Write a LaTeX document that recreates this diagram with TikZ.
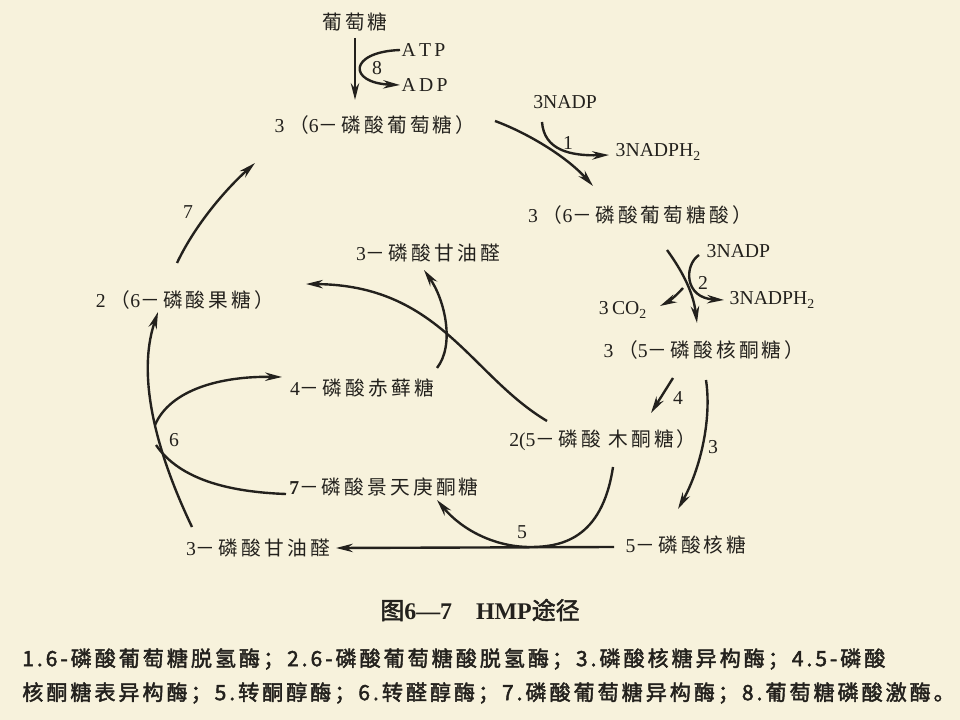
\documentclass[tikz,border=0pt]{standalone}
\usepackage{fontspec}
\setmainfont{Liberation Serif}
\newfontfamily\cjk[LetterSpace=16]{Noto Sans CJK SC}
\newfontfamily\cjknote[AutoFakeBold=2,LetterSpace=14]{Noto Sans CJK SC}
\newfontfamily\cjkcap[AutoFakeBold=2]{Noto Sans CJK SC}
\usetikzlibrary{arrows.meta}
\definecolor{paper}{HTML}{F7F2DC}
\definecolor{ink}{HTML}{23211D}
\newcommand{\zh}[1]{{\cjk #1}}
\tikzset{
  lbl/.style={text=ink,font=\fontsize{14}{16}\selectfont,inner sep=1pt},
  num/.style={text=ink,font=\fontsize{14}{16}\selectfont,inner sep=1pt},
  note/.style={text=ink,font=\fontsize{15}{17}\selectfont\bfseries,inner sep=0pt,anchor=west},
  flow/.style={draw=ink,line width=1.7pt,-{Stealth[length=12pt,width=6pt]}},
  bare/.style={draw=ink,line width=1.7pt},
}
\begin{document}
\begin{tikzpicture}[x=0.025cm,y=-0.025cm]
\useasboundingbox (0,0) rectangle (960,720);
\fill[paper] (0,0) rectangle (960,720);
% compounds
\node[lbl] (glu) at (355,22) {\zh{葡萄糖}};
\node[lbl,anchor=west] (atp) at (400,50) {A\,T\,P};
\node[lbl,anchor=west] (adp) at (400,85) {A\,D\,P};
\node[lbl] (g6p) at (375,125) {3 \zh{（}6\zh{－磷酸葡萄糖）}};
\node[lbl] (nadpa) at (565,102) {3NADP};
\node[lbl,anchor=west] (nadpha) at (614,152) {3NADPH\textsubscript{2}};
\node[lbl] (g6pa) at (640,215) {3 \zh{（}6\zh{－磷酸葡萄糖酸）}};
\node[lbl,anchor=west] (nadpb) at (705,251) {3NADP};
\node[lbl] (co2) at (623,310) {3\,CO\textsubscript{2}};
\node[lbl,anchor=west] (nadphb) at (728,300) {3NADPH\textsubscript{2}};
\node[lbl] (ru5p) at (704,350) {3 \zh{（}5\zh{－磷酸核酮糖）}};
\node[lbl] (xu5p) at (603,440) {2(5\zh{－磷酸 木酮糖）}};
\node[lbl] (r5p) at (686,545) {5\zh{－磷酸核糖}};
\node[lbl] (gapb) at (258,548) {3\zh{－磷酸甘油醛}};
\node[lbl] (s7p) at (384,487) {\textbf{7}\zh{－磷酸景天庚酮糖}};
\node[lbl] (e4p) at (362,388) {4\zh{－磷酸赤藓糖}};
\node[lbl] (gapt) at (428,253) {3\zh{－磷酸甘油醛}};
\node[lbl] (f6p) at (185,300) {2 \zh{（}6\zh{－磷酸果糖）}};
% enzyme numbers
\node[num] (e8) at (377,68) {8};
\node[num] (e1) at (568,143) {1};
\node[num] (e2) at (703,283) {2};
\node[num] (e4) at (678,398) {4};
\node[num] (e3) at (713,447) {3};
\node[num] (e5) at (522,532) {5};
\node[num] (e6) at (174,440) {6};
\node[num] (e7) at (188,212) {7};
% points on the paths
\coordinate (p8a) at (355,38);
\coordinate (p8b) at (355,100);
\coordinate (p1a) at (495,121);
\coordinate (p1b) at (593,186);
\coordinate (p1c) at (542,122);
\coordinate (p1d) at (609,155);
\coordinate (p2a) at (667,250);
\coordinate (p2b) at (697,323);
\coordinate (p2c) at (683,288);
\coordinate (p2d) at (660,306);
\coordinate (p2e) at (699,255);
\coordinate (p2f) at (724,300);
\coordinate (p4a) at (673,378);
\coordinate (p4b) at (651,413);
\coordinate (p3a) at (706,380);
\coordinate (p3b) at (678,509);
\coordinate (p5a) at (614,547);
\coordinate (p5b) at (336,548);
\coordinate (p5c) at (613,467);
\coordinate (p5d) at (530,547);
\coordinate (p5e) at (437,500);
\coordinate (pxa) at (547,421);
\coordinate (pxb) at (306,284);
\coordinate (pea) at (437,368);
\coordinate (peb) at (424,270);
\coordinate (p7a) at (177,263);
\coordinate (p7b) at (255,163);
\coordinate (p6a) at (192,527);
\coordinate (p6b) at (158,312);
\coordinate (p6c) at (155,425);
\coordinate (p6d) at (282,377);
\coordinate (p6e) at (286,494);
\coordinate (p6f) at (156,445);
% reactions
\draw[flow] (p8a) -- (p8b);
\draw[flow] (atp.west) .. controls (348,52) and (348,83) .. (adp.west);
\draw[flow] (p1a) .. controls (525,132) and (565,155) .. (p1b);
\draw[flow] (p1c) .. controls (544,150) and (570,156) .. (p1d);
\draw[flow] (p2a) .. controls (680,268) and (693,290) .. (p2b);
\draw[flow] (p2c) .. controls (676,296) and (668,302) .. (p2d);
\draw[flow] (p2e) .. controls (684,265) and (684,298) .. (p2f);
\draw[flow] (p4a) -- (p4b);
\draw[flow] (p3a) .. controls (712,420) and (700,470) .. (p3b);
\draw[flow] (p5a) -- (p5b);
\draw[flow] (p5c) .. controls (602,540) and (560,547) .. (p5d) .. controls (495,547) and (462,530) .. (p5e);
\draw[flow] (pxa) .. controls (470,375) and (440,285) .. (pxb);
\draw[flow] (pea) .. controls (455,345) and (445,300) .. (peb);
\draw[flow] (p7a) .. controls (195,225) and (225,190) .. (p7b);
\draw[flow] (p6a) .. controls (160,460) and (135,380) .. (p6b);
\draw[flow] (p6c) .. controls (170,390) and (220,376) .. (p6d);
\draw[bare] (p6e) .. controls (230,492) and (180,480) .. (p6f);
% caption
\node[text=ink,font=\fontsize{17}{20}\selectfont\bfseries] (cap) at (480,610) {{\cjkcap 图}6—7\quad HMP{\cjkcap 途径}};
\node[note] (nta) at (22,659) {\cjknote 1.6-磷酸葡萄糖脱氢酶；2.6-磷酸葡萄糖酸脱氢酶；3.磷酸核糖异构酶；4.5-磷酸};
\node[note] (ntb) at (22,693) {\cjknote 核酮糖表异构酶；5.转酮醇酶；6.转醛醇酶；7.磷酸葡萄糖异构酶；8.葡萄糖磷酸激酶。};
\end{tikzpicture}
\end{document}
